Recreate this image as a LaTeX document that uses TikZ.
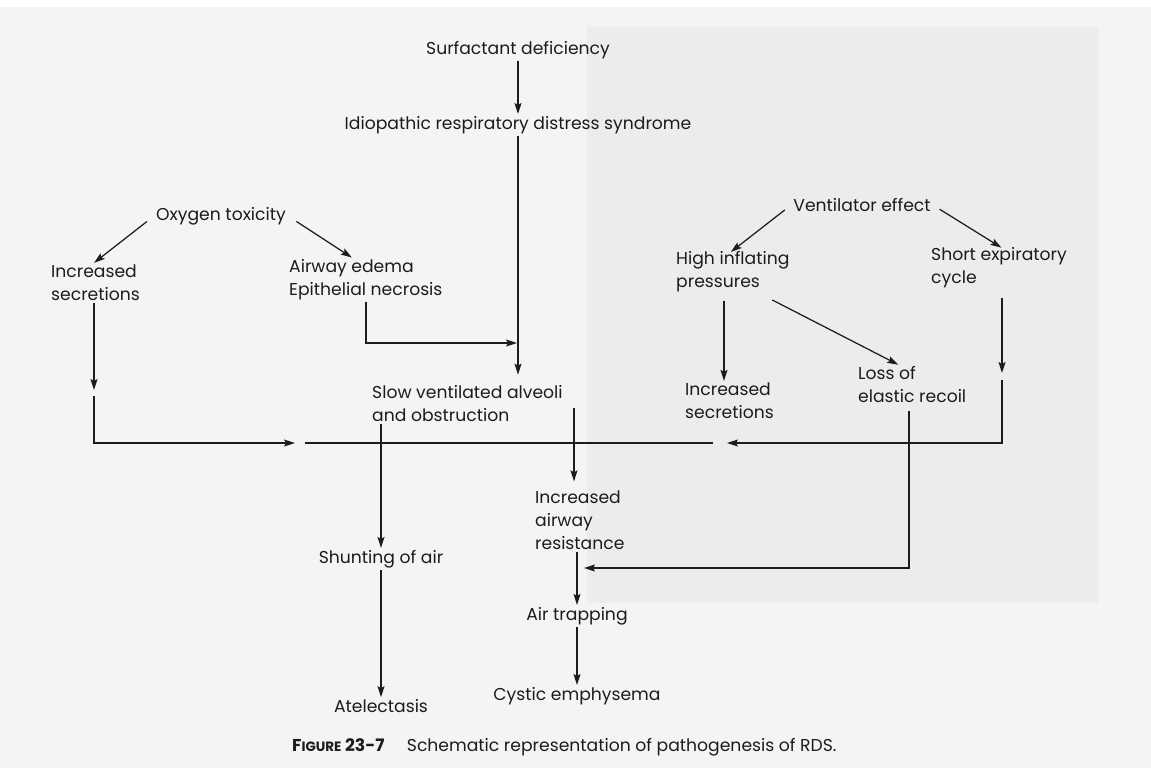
\documentclass[tikz,border=0pt]{standalone}
\usepackage{fontspec}
\setmainfont{Poppins}
\usetikzlibrary{arrows.meta, positioning, calc}
\definecolor{pagegray}{RGB}{244,244,243}
\definecolor{photogray}{RGB}{235,237,237}
\definecolor{ink}{RGB}{28,28,28}

\begin{document}
\begin{tikzpicture}[x=1pt, y=-1pt,
    lbl/.style={text=ink, inner sep=2pt, font=\fontsize{17.2}{23}\selectfont},
    lblL/.style={lbl, align=left, anchor=west},
    arr/.style={-{Stealth[length=11pt, width=7pt, inset=2pt]}, draw=ink, line width=1.25pt},
    ln/.style={draw=ink, line width=1.25pt}]
    \useasboundingbox (0,0) rectangle (1151,768);

    % Page and photo area
    \fill[pagegray] (0,7) rectangle (1151,768);
    \fill[photogray] (587,27) rectangle (1098,603);

    % Main chain
    \node[lbl] (surf) at (518,50) {Surfactant deficiency};
    \node[lbl] (irds) at (518,125) {Idiopathic respiratory distress syndrome};
    \node[lblL] (slow) at (370,404) {Slow ventilated alveoli\\and obstruction};
    \node[lbl] (shunt) at (381,559) {Shunting of air};
    \node[lbl] (atel) at (381,706) {Atelectasis};
    \node[lblL] (resist) at (533,520) {Increased\\airway\\resistance};
    \node[lbl] (trap) at (577,616) {Air trapping};
    \node[lbl] (cyst) at (577,696) {Cystic emphysema};

    % Oxygen toxicity branch
    \node[lbl] (oxy) at (221,216) {Oxygen toxicity};
    \node[lblL] (secL) at (49,283) {Increased\\secretions};
    \node[lblL] (edema) at (287,280) {Airway edema\\Epithelial necrosis};

    % Ventilator branch
    \node[lbl] (vent) at (862,205) {Ventilator effect};
    \node[lblL] (press) at (674,272) {High inflating\\pressures};
    \node[lblL] (short) at (929,268) {Short expiratory\\cycle};
    \node[lblL] (secR) at (683,401) {Increased\\secretions};
    \node[lblL] (loss) at (856,385) {Loss of\\elastic recoil};

    % Caption
    \node[lbl, anchor=west] (cap) at (290,747) {{\bfseries F{\fontsize{13.5}{14}\selectfont IGURE} 23-7}\hspace{1.3em}Schematic representation of pathogenesis of RDS.};

    % Bend points
    \coordinate (join) at (517,343);
    \coordinate (secLtip) at (94,390);
    \coordinate (shortTip) at (1002,373);
    \coordinate (barL) at (305,443);
    \coordinate (barR) at (713,443);
    \coordinate (trapIn) at (584,568);

    % Connections
    \draw[arr] (surf) -- (irds);
    \draw[arr, shorten >=9pt] (irds.south) -- (irds.south |- slow.north);
    \draw[arr] (edema.south -| 366,0) |- (join);
    \draw[arr, shorten <=9pt] (oxy.west) -- (secL.north -| secLtip);
    \draw[arr, shorten <=10pt] (oxy.east) -- ([xshift=-14pt]edema.north);
    \draw[arr] (secL.south -| secLtip) -- (secLtip);
    \draw[arr] ([yshift=-6pt]secLtip) |- ([xshift=-10pt]barL);
    \draw[ln] (barL) -- (barR);
    \draw[arr] (shunt.north |- slow.south) -- (shunt.north);
    \draw[arr, shorten >=7pt] ([yshift=-4pt]slow.east -| 574,0) -- (resist.north -| 574,0);
    \draw[arr] (trap.north |- resist.south) -- (trap.north);
    \draw[arr] (trap) -- (cyst);
    \draw[arr] (shunt.south) -- (shunt.south |- atel.north);
    \draw[arr, shorten <=8pt, shorten >=-4pt] (vent.west) -- (press.north -| 734,0);
    \draw[arr, shorten <=8pt, shorten >=-4pt] (vent.east) -- (short.north -| 998,0);
    \draw[arr, shorten <=6pt] (press.south -| 724,0) -- (secR.north -| 724,0);
    \draw[arr, shorten <=12pt] ([xshift=-30pt]press.south east) -- ([xshift=-14pt]loss.north);
    \draw[arr, shorten <=8pt] (short.south -| shortTip) -- (shortTip);
    \draw[arr] ([yshift=-7pt]shortTip) |- ([xshift=14pt]barR);
    \draw[arr, shorten <=6pt] (loss.south -| 909,0) |- (trapIn);
\end{tikzpicture}
\end{document}
